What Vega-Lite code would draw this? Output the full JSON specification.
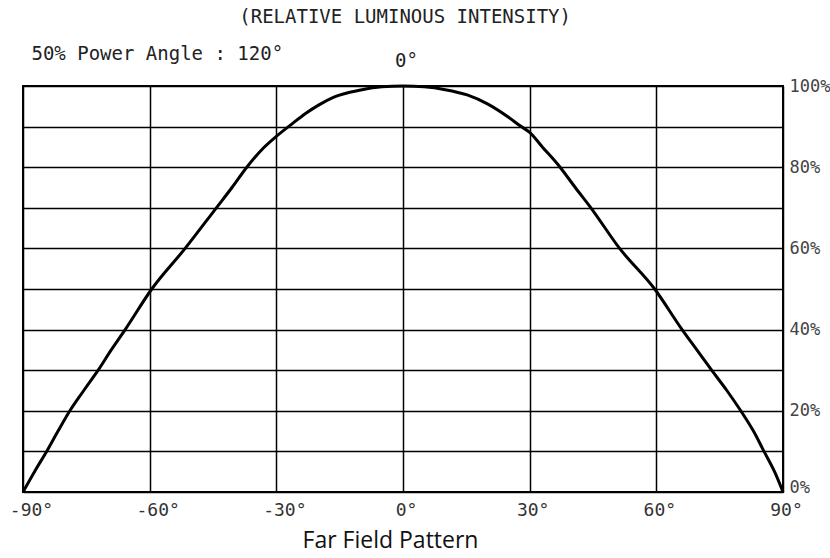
{
  "$schema": "https://vega.github.io/schema/vega-lite/v6.json",
  "width": 760,
  "height": 406,
  "autosize": {"type": "none"},
  "padding": {"left": 23, "top": 86, "right": 47, "bottom": 66},
  "background": "white",
  "config": {
    "view": {"stroke": "black", "strokeWidth": 2},
    "font": "DejaVu Sans Mono"
  },
  "layer": [
    {
      "data": {"values": [
        {"angle": -90, "intensity": 0},
        {"angle": -87, "intensity": 5.5},
        {"angle": -84.4, "intensity": 10},
        {"angle": -81.7, "intensity": 15},
        {"angle": -78.9, "intensity": 20},
        {"angle": -75.6, "intensity": 25},
        {"angle": -72.2, "intensity": 30},
        {"angle": -69.1, "intensity": 35},
        {"angle": -65.8, "intensity": 40},
        {"angle": -59.5, "intensity": 50},
        {"angle": -51.6, "intensity": 60},
        {"angle": -44.2, "intensity": 70},
        {"angle": -40.5, "intensity": 75},
        {"angle": -37, "intensity": 80},
        {"angle": -33, "intensity": 84.8},
        {"angle": -30, "intensity": 87.6},
        {"angle": -26.5, "intensity": 90.5},
        {"angle": -23, "intensity": 93.3},
        {"angle": -20, "intensity": 95.3},
        {"angle": -16.5, "intensity": 97.2},
        {"angle": -10, "intensity": 99},
        {"angle": -5, "intensity": 99.8},
        {"angle": 0, "intensity": 100},
        {"angle": 5, "intensity": 99.8},
        {"angle": 10, "intensity": 99.1},
        {"angle": 15.2, "intensity": 97.8},
        {"angle": 20, "intensity": 95.6},
        {"angle": 25, "intensity": 92.3},
        {"angle": 28, "intensity": 90},
        {"angle": 30, "intensity": 88.6},
        {"angle": 33, "intensity": 85},
        {"angle": 37.2, "intensity": 80},
        {"angle": 40.8, "intensity": 75},
        {"angle": 44.5, "intensity": 70},
        {"angle": 51.3, "intensity": 60},
        {"angle": 59.6, "intensity": 50},
        {"angle": 66.1, "intensity": 40},
        {"angle": 69.6, "intensity": 35},
        {"angle": 73.1, "intensity": 30},
        {"angle": 76.7, "intensity": 25},
        {"angle": 80, "intensity": 20},
        {"angle": 83, "intensity": 15},
        {"angle": 85.5, "intensity": 10},
        {"angle": 88, "intensity": 5},
        {"angle": 90, "intensity": 0}
      ]},
      "mark": {"type": "line", "color": "black", "strokeWidth": 3, "interpolate": "monotone"},
      "encoding": {
        "x": {
          "field": "angle", "type": "quantitative",
          "scale": {"domain": [-90, 90], "nice": false, "zero": false},
          "axis": {
            "values": [-90, -60, -30, 0, 30, 60, 90],
            "grid": true, "gridColor": "black", "gridWidth": 1.5, "gridOpacity": 1,
            "domain": false, "ticks": false,
            "labelExpr": "datum.value + '°'",
            "labelFont": "DejaVu Sans Mono", "labelFontSize": 18, "labelColor": "#333",
            "labelPadding": 9,
            "labelOffset": {"condition": {"test": "datum.value < 0", "value": 8}, "value": 3},
            "labelFlush": false, "labelOverlap": false,
            "title": "Far Field Pattern",
            "titleFont": "Open Sans", "titleFontSize": 23, "titleFontWeight": "normal",
            "titleColor": "#111", "titlePadding": 10, "titleX": 367
          }
        },
        "y": {
          "field": "intensity", "type": "quantitative",
          "scale": {"domain": [0, 100], "nice": false},
          "axis": {
            "orient": "right",
            "values": [0, 10, 20, 30, 40, 50, 60, 70, 80, 90, 100],
            "grid": true, "gridColor": "black", "gridWidth": 1.5, "gridOpacity": 1,
            "domain": false, "ticks": false,
            "labelExpr": "datum.value % 20 == 0 ? datum.value + '%' : ''",
            "labelFont": "DejaVu Sans Mono", "labelFontSize": 17, "labelColor": "#444",
            "labelPadding": 6,
            "labelBaseline": {"condition": {"test": "datum.value == 0", "value": "alphabetic"}, "value": "middle"},
            "labelFlush": false, "labelOverlap": false,
            "title": null
          }
        }
      }
    },
    {
      "data": {"values": [
        {"label": "(RELATIVE LUMINOUS INTENSITY)", "angle": 0.5, "intensity": 116.9},
        {"label": "0°", "angle": 0.8, "intensity": 106.2}
      ]},
      "mark": {"type": "text", "align": "center", "baseline": "middle", "fontSize": 19, "color": "#222", "font": "DejaVu Sans Mono"},
      "encoding": {
        "x": {"field": "angle", "type": "quantitative"},
        "y": {"field": "intensity", "type": "quantitative"},
        "text": {"field": "label"}
      }
    },
    {
      "data": {"values": [
        {"label": "50% Power Angle : 120°", "angle": -88, "intensity": 107.9}
      ]},
      "mark": {"type": "text", "align": "left", "baseline": "middle", "fontSize": 19, "color": "#222", "font": "DejaVu Sans Mono"},
      "encoding": {
        "x": {"field": "angle", "type": "quantitative"},
        "y": {"field": "intensity", "type": "quantitative"},
        "text": {"field": "label"}
      }
    }
  ]
}
